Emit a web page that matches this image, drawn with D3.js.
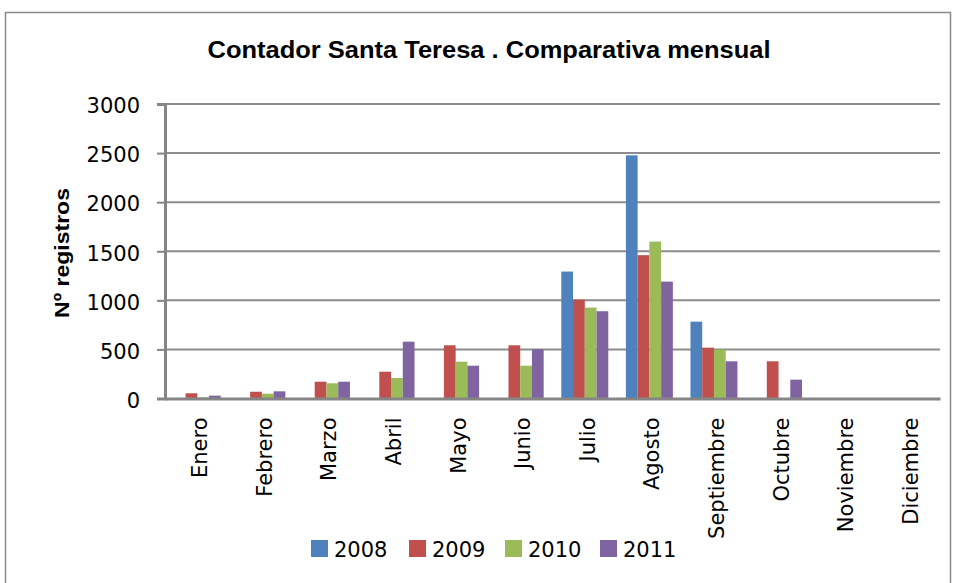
<!DOCTYPE html>
<html>
<head>
<meta charset="utf-8">
<script src="https://cdn.jsdelivr.net/npm/d3@7"></script>
<style>
  html, body { margin: 0; padding: 0; background: #fff; }
  svg { display: block; font-family: "DejaVu Sans", "Liberation Sans", Arial, sans-serif; }
</style>
</head>
<body>
<svg id="chart" width="956" height="583"></svg>
<script>
// Monthly register counts for the Santa Teresa counter
const months = ["Enero", "Febrero", "Marzo", "Abril", "Mayo", "Junio", "Julio",
                "Agosto", "Septiembre", "Octubre", "Noviembre", "Diciembre"];
const years = ["2008", "2009", "2010", "2011"];
const v2008 = [0, 0, 0, 0, 0, 0, 1293, 2477, 783, 0, 0, 0];
const v2009 = [53, 69, 171, 273, 542, 542, 1007, 1460, 518, 379, 0, 0];
const v2010 = [12, 49, 155, 209, 375, 334, 926, 1598, 497, 0, 0, 0];
const v2011 = [29, 73, 171, 579, 334, 501, 889, 1191, 379, 192, 0, 0];
const yTicks = [0, 500, 1000, 1500, 2000, 2500, 3000];
const colors = ["#4F81BD", "#C0504D", "#9BBB59", "#8064A2"];

const seriesValues = [v2008, v2009, v2010, v2011];
const rows = months.map((m, i) => ({ month: m, values: seriesValues.map(s => s[i]) }));

const svg = d3.select("#chart");
const plot = { left: 165, right: 940, top: 104, bottom: 398.5 };

// Outer chart frame
svg.append("rect")
  .attr("x", 5.5).attr("y", 12.5)
  .attr("width", 945).attr("height", 600)
  .attr("fill", "#fff").attr("stroke", "#8a8a8a").attr("stroke-width", 1.5);

// Title
svg.append("text")
  .attr("x", 489).attr("y", 58)
  .attr("text-anchor", "middle")
  .attr("font-family", "Liberation Sans, Arial, sans-serif")
  .attr("font-weight", "bold").attr("font-size", 23)
  .attr("textLength", 563).attr("lengthAdjust", "spacingAndGlyphs")
  .text("Contador Santa Teresa . Comparativa mensual");

const x0 = d3.scaleBand().domain(months).range([plot.left, plot.right]).paddingInner(0).paddingOuter(0);
const groupPad = 1.5 / (4 + 1.5);
const x1 = d3.scaleBand().domain(years)
  .range([x0.bandwidth() * groupPad / 2, x0.bandwidth() * (1 - groupPad / 2)]);
const y = d3.scaleLinear().domain([0, 3000]).range([plot.bottom, plot.top]);

// Horizontal gridlines
svg.append("g")
  .selectAll("line").data(yTicks.filter(t => t > 0)).join("line")
  .attr("x1", plot.left).attr("x2", plot.right)
  .attr("y1", d => y(d)).attr("y2", d => y(d))
  .attr("stroke", "#8c8c8c").attr("stroke-width", 2);

// Bars
const groups = svg.append("g").selectAll("g").data(rows).join("g")
  .attr("transform", d => `translate(${x0(d.month)},0)`);
groups.selectAll("rect")
  .data(d => d.values.map((v, k) => ({ year: years[k], value: v, k })))
  .join("rect")
  .filter(d => d.value > 0)
  .attr("x", d => x1(d.year))
  .attr("width", x1.bandwidth())
  .attr("y", d => y(d.value))
  .attr("height", d => y(0) - y(d.value))
  .attr("fill", d => colors[d.k]);

// Y axis
const yAxis = svg.append("g")
  .attr("transform", `translate(${plot.left},0)`)
  .call(d3.axisLeft(y).tickValues(yTicks).tickSize(8).tickPadding(17).tickFormat(d3.format("d")));
yAxis.select(".domain").attr("stroke", "#858585").attr("stroke-width", 3);
yAxis.selectAll(".tick line").attr("stroke", "#858585").attr("stroke-width", 2);
yAxis.selectAll(".tick text").attr("font-size", 21).attr("fill", "#000")
  .attr("font-family", "DejaVu Sans, sans-serif")
  .attr("dy", "0.42em");

// X axis baseline
const xAxis = svg.append("g")
  .attr("transform", `translate(0,${plot.bottom})`)
  .call(d3.axisBottom(x0).tickSize(0).tickPadding(0));
xAxis.select(".domain").attr("stroke", "#858585").attr("stroke-width", 3);
xAxis.selectAll(".tick text")
  .attr("font-size", 21).attr("fill", "#000")
  .attr("font-family", "DejaVu Sans, sans-serif")
  .attr("text-anchor", "end")
  .attr("dy", null)
  .attr("transform", "translate(10,19) rotate(-90)");

// Y axis title
svg.append("text")
  .attr("transform", "translate(69,253) rotate(-90)")
  .attr("text-anchor", "middle")
  .attr("font-family", "Liberation Sans, Arial, sans-serif")
  .attr("font-weight", "bold").attr("font-size", 21)
  .attr("textLength", 130).attr("lengthAdjust", "spacingAndGlyphs")
  .text("Nº registros");

// Legend
const legendX = [311, 409, 505, 600];
const legend = svg.append("g").selectAll("g").data(years).join("g")
  .attr("transform", (d, i) => `translate(${legendX[i]},540)`);
legend.append("rect").attr("width", 17).attr("height", 17)
  .attr("fill", (d, i) => colors[i]);
legend.append("text")
  .attr("x", 23).attr("y", 16.5)
  .attr("font-size", 21)
  .text(d => d);
</script>
</body>
</html>
